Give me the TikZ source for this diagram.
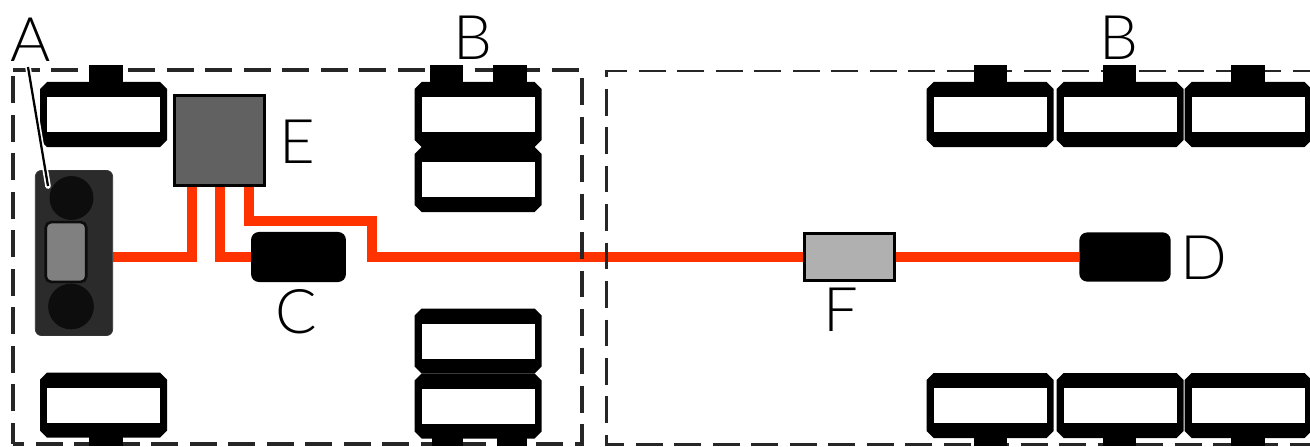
\documentclass[tikz,border=0pt]{standalone}
\usepackage{fontspec}
\setmainfont{Lato Light}
\usetikzlibrary{backgrounds}
\definecolor{wirered}{HTML}{FF3300}
\tikzset{
 wire/.style={draw=wirered, line width=5.7pt, line join=miter},
 label/.style={font=\fontsize{35}{35}\selectfont, inner sep=0},
 box/.style={draw=black, line width=2pt, inner sep=0},
 blob/.style={fill=black, rounded corners=4.5pt, inner sep=0},
 zone/.style={draw=black!85, dash pattern=on 15.3pt off 6.6pt},
 wheel/.pic={
  \fill[black] (-63.5,-25.5) -- (-56.5,-32.5) -- (56.5,-32.5) -- (63.5,-25.5) -- (63.5,25.5) -- (56.5,32.5) -- (-56.5,32.5) -- (-63.5,25.5) -- cycle;
  \fill[white] (-56.5,-17.5) rectangle (56.5,17.5);
 }
}
\begin{document}
\begin{tikzpicture} [x=.02cm, y=-.02cm]
\clip (0,0) rectangle (1310,446);
% dashed zones
\draw[zone, line width=1.8pt] (13,70) -- (582,70) -- (582,444) -- (13,444);
\draw[zone, line width=1.8pt] (13,76.5) -- (13,444);
\draw[zone, line width=1.7pt, dash phase=4.5pt] (1312,71) -- (606.5,71) -- (606.5,444) -- (1312,444);
% main parts
\node[box, fill=black!62, minimum width=51pt, minimum height=51pt] (ecu) at (219.5,140.5) {};
\node[blob, minimum width=54pt, minimum height=28.5pt] (brakeC) at (298.5,257) {};
\node[blob, minimum width=52pt, minimum height=28pt] (brakeD) at (1125,257) {};
\node[box, fill=black!31, minimum width=51pt, minimum height=26.5pt] (unitF) at (849.5,257) {};
\node[draw=black!80, fill=black!83, rounded corners=3.5pt, minimum width=44pt, minimum height=94pt, inner sep=0] (engine) at (74,253) {};
\coordinate (ecuA) at (192,186);
\coordinate (ecuB) at (220,186);
\coordinate (ecuC) at (249,186);
\coordinate (bendC) at (372,221);
\begin{scope}[on background layer]
\draw[wire] (ecuA) |- (engine.east |- brakeC);
\draw[wire] (ecuB) |- (brakeC.west);
\draw[wire] (ecuC) |- (bendC) |- (unitF.west);
\draw[wire] (unitF.east) -- (brakeD.west);
\end{scope}
% engine parts
\node[circle, fill=black!95, minimum size=25pt, inner sep=0] (cylA) at (71.5,198) {};
\node[circle, fill=black!95, minimum size=26pt, inner sep=0] (cylB) at (71,306.5) {};
\node[draw=black!95, line width=1.5pt, fill=black!50, rounded corners=3pt, minimum width=23pt, minimum height=34pt, inner sep=0] (coreA) at (66,252) {};
% wheels
\foreach \x/\y in {103.5/114.5, 103.5/405, 478/114.5, 478/179.5, 478/341, 478/406,
 990/114.5, 1120/114.5, 1248/114.5, 990/405.5, 1120/405.5, 1248/405.5} {
 \pic at (\x,\y) {wheel};
}
\foreach \x/\w in {106/34, 446/33, 510/34, 990/33, 1119/33, 1248/34} {
 \fill[black] (\x-\w/2,65) rectangle (\x+\w/2,84);
}
\foreach \x/\w in {106/34, 447/31, 512/30, 990/33, 1119/33, 1248/34} {
 \fill[black] (\x-\w/2,436) rectangle (\x+\w/2,446);
}
% labels
\node[label] (labA) at (31,40) {A};
\node[label] (labB) at (473,38) {B};
\node[label] (labBB) at (1119,38) {B};
\node[label] (labC) at (296,312) {C};
\node[label] (labD) at (1204,258) {D};
\node[label] (labE) at (297,142) {E};
\node[label] (labF) at (841,310) {F};
\coordinate (leadA) at (28,67);
\coordinate (leadB) at (48,186);
\draw[white, line width=3.2pt, line cap=round] (leadA) -- (leadB);
\draw[black, line width=1.3pt] (leadA) -- (leadB);
\end{tikzpicture}
\end{document}
